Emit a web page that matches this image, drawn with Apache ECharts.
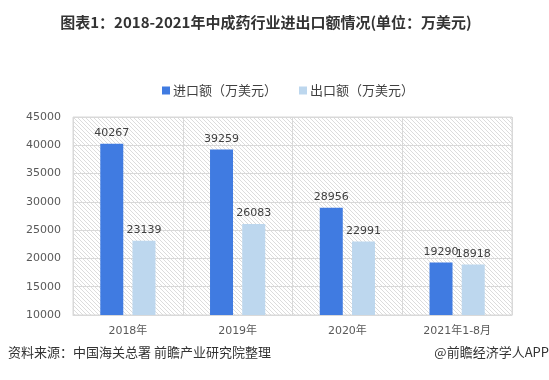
<!DOCTYPE html>
<html><head><meta charset="utf-8">
<script src="https://cdn.jsdelivr.net/npm/echarts@6/dist/echarts.min.js"></script>
<style>html,body{margin:0;padding:0;background:#fff}#c{width:549px;height:380px}</style>
</head><body><div id="c"></div>
<script>
const categories = ['2018年', '2019年', '2020年', '2021年1-8月'];
const importValues = [40267, 39259, 28956, 19290];
const exportValues = [23139, 26083, 22991, 18918];
const seriesNames = ['进口额（万美元）', '出口额（万美元）'];
const yTicks = {min: 10000, max: 45000, interval: 5000};

const cv = document.createElement('canvas');
cv.width = 4; cv.height = 4;
const cx = cv.getContext('2d');
cx.fillStyle = '#ffffff'; cx.fillRect(0,0,4,4);
cx.fillStyle = '#dcdcdc';
for (let i = 0; i < 4; i++) cx.fillRect(i, i, 1, 1);

const FONT = '"DejaVu Sans", "Noto Sans CJK SC", sans-serif';
const chart = echarts.init(document.getElementById('c'), null, {renderer: 'canvas'});
chart.setOption({
  animation: false,
  backgroundColor: '#fff',
  title: [
    {text: '图表1：2018-2021年中成药行业进出口额情况(单位：万美元)', left: 261, top: 10, textAlign: 'center',
     textStyle: {fontSize: 15, fontWeight: 'bold', color: '#333', fontFamily: '"Noto Sans CJK SC", sans-serif'}},
  ],
  graphic: [
    {type: 'text', left: 8, top: 346, style: {text: '资料来源：中国海关总署 前瞻产业研究院整理', fontSize: 13, fill: '#333', fontFamily: '"Noto Sans CJK SC", sans-serif'}},
    {type: 'text', right: 0, top: 346, style: {text: '@前瞻经济学人APP', fontSize: 13, fill: '#333', fontFamily: '"Noto Sans CJK SC", sans-serif'}}
  ],
  legend: {
    data: seriesNames, top: 79, left: 157, itemWidth: 8, itemHeight: 8, itemGap: 22, icon: 'rect',
    textStyle: {fontSize: 13, color: '#404040', fontFamily: '"Noto Sans CJK SC", sans-serif', padding: [0,0,0,-2]}
  },
  grid: {left: 73, right: 37, top: 117, bottom: 65, show: true,
    backgroundColor: {image: cv, repeat: 'repeat'}, borderColor: '#d9d9d9', borderWidth: 1},
  xAxis: {
    type: 'category', data: categories,
    axisLine: {lineStyle: {color: '#d9d9d9'}}, axisTick: {show: false},
    splitLine: {show: true, lineStyle: {color: '#d9d9d9'}},
    axisLabel: {fontSize: 11, color: '#595959', margin: 11, fontFamily: FONT}
  },
  yAxis: {
    type: 'value', min: yTicks.min, max: yTicks.max, interval: yTicks.interval,
    axisLine: {show: false}, axisTick: {show: false},
    splitLine: {lineStyle: {color: '#d9d9d9'}},
    axisLabel: {fontSize: 11, color: '#595959', margin: 12, fontFamily: FONT, formatter: v => String(v)}
  },
  series: [
    {name: seriesNames[0], type: 'bar', data: importValues, barWidth: 23, barGap: '40%',
     itemStyle: {color: '#407BE1'},
     label: {show: true, position: 'top', fontSize: 11, color: '#404040', fontFamily: FONT, distance: 5}},
    {name: seriesNames[1], type: 'bar', data: exportValues, barWidth: 23,
     itemStyle: {color: '#BDD7EE'},
     label: {show: true, position: 'top', fontSize: 11, color: '#404040', fontFamily: FONT, distance: 5}}
  ]
});
</script></body></html>
